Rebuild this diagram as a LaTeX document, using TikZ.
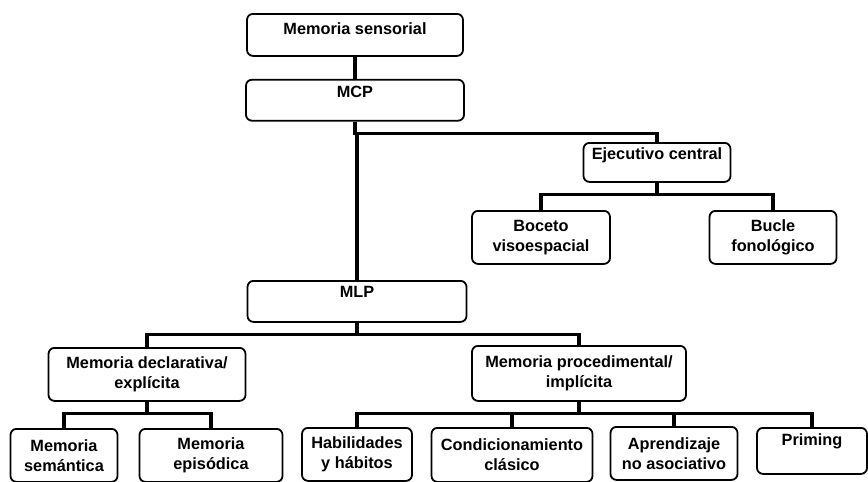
\documentclass[tikz,border=0pt]{standalone}
\usepackage{fontspec}
\setmainfont{Liberation Sans}
\usepackage{xcolor}
\usepackage{tikz}
\usetikzlibrary{positioning}
\tikzset{
  caja/.style={
    rectangle, rounded corners=6pt, draw=black, line width=1.8pt,
    fill=white, align=flush center, inner sep=0pt, anchor=north,
    font=\fontsize{16.3}{20}\selectfont\bfseries
  },
  unalinea/.style 2 args={text height=#1, text depth=#2},
  rama/.style={line width=3.2pt, draw=black}
}

\begin{document}
\begin{tikzpicture}[x=1pt, y=-1pt]
\fill[white] (0,0) rectangle (868,482);
\useasboundingbox (0,0) rectangle (868,482);

% memoria a corto plazo
\node[caja, unalinea={21pt}{21pt}, text width=216pt] (sens) at (355,13) {Memoria sensorial};
\node[caja, unalinea={18pt}{23pt}, text width=218pt, below=22pt of sens] (mcp) {MCP};
\node[caja, unalinea={17pt}{22pt}, text width=147pt] (ejec) at (657,142) {Ejecutivo central};
\node[caja, text width=138pt, minimum height=53pt] (boceto) at (541,210) {Boceto\\ visoespacial};
\node[caja, text width=127pt, minimum height=53pt] (bucle) at (773,210) {Bucle\\ fonológico};

% memoria a largo plazo
\node[caja, unalinea={17pt}{24pt}, text width=219pt] (mlp) at (357,280) {MLP};
\node[caja, text width=197pt, minimum height=53pt] (decl) at (147,347) {Memoria declarativa/\\ explícita};
\node[caja, text width=214pt, minimum height=55pt] (proc) at (579,345) {Memoria procedimental/\\ implícita};
\node[caja, text width=107pt, minimum height=53pt] (sem) at (64,428) {Memoria\\ semántica};
\node[caja, text width=143pt, minimum height=53pt] (epis) at (211,428) {Memoria\\ episódica};
\node[caja, text width=110pt, minimum height=53pt] (habil) at (357,427) {Habilidades\\ y hábitos};
\node[caja, text width=161pt, minimum height=54pt] (cond) at (512,427) {Condicionamiento\\ clásico};
\node[caja, text width=127pt, minimum height=53pt] (apren) at (674,426) {Aprendizaje\\ no asociativo};
\node[caja, unalinea={18pt}{28pt}, text width=110pt] (prim) at (812,427) {Priming};

\foreach \a/\b in {sens/mcp, mcp/mlp, mcp/ejec, ejec/boceto, ejec/bucle, mlp/decl, mlp/proc,
                   decl/sem, decl/epis, proc/habil, proc/cond, proc/apren, proc/prim}
  \draw[rama] (\a.south) -- ++(0,-12pt) -| (\b.north);
\end{tikzpicture}
\end{document}
